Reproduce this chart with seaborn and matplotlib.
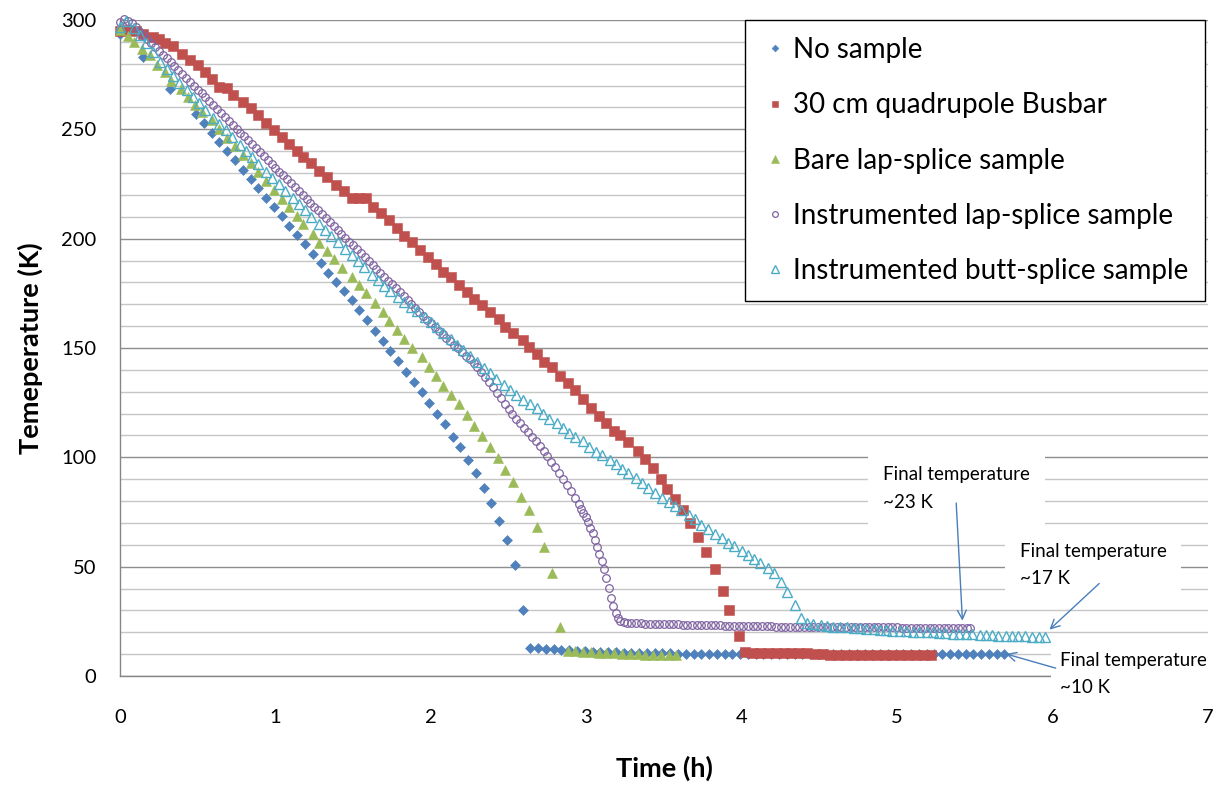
import matplotlib
matplotlib.use("Agg")
import matplotlib.pyplot as plt
from matplotlib.ticker import MultipleLocator
import seaborn as sns
import pandas as pd

# ---------------- data (time in h, temperature in K) ----------------
labels = ["No sample", "30 cm quadrupole Busbar", "Bare lap-splice sample",
          "Instrumented lap-splice sample", "Instrumented butt-splice sample"]
colors = ["#4F81BD", "#C0504D", "#9BBB59", "#8064A2", "#4BACC6"]

blue_t = [0.00, 0.15, 0.32, 0.49, 0.54, 0.59, 0.64, 0.69, 0.74, 0.79,
          0.84, 0.89, 0.94, 0.99, 1.04, 1.09, 1.14, 1.19, 1.24, 1.29,
          1.34, 1.39, 1.44, 1.49, 1.54, 1.59, 1.64, 1.69, 1.74, 1.79,
          1.84, 1.89, 1.94, 1.99, 2.04, 2.09, 2.14, 2.19, 2.24, 2.29,
          2.34, 2.39, 2.44, 2.49, 2.54, 2.59, 2.64, 2.69, 2.74, 2.79,
          2.84, 2.89, 2.94, 2.99, 3.04, 3.09, 3.14, 3.19, 3.24, 3.29,
          3.34, 3.39, 3.44, 3.49, 3.54, 3.59, 3.64, 3.69, 3.74, 3.79,
          3.84, 3.89, 3.94, 3.99, 4.04, 4.09, 4.14, 4.19, 4.24, 4.29,
          4.34, 4.39, 4.44, 4.49, 4.54, 4.59, 4.64, 4.69, 4.74, 4.79,
          4.84, 4.89, 4.94, 4.99, 5.04, 5.09, 5.14, 5.19, 5.24, 5.29,
          5.34, 5.39, 5.44, 5.49, 5.54, 5.59, 5.64, 5.69]
blue_T = [293.5, 283.0, 268.3, 257.0, 252.7, 248.5, 244.2, 240.0, 236.0, 231.5,
          227.2, 223.2, 218.8, 214.5, 210.5, 205.9, 201.7, 197.5, 193.1, 188.7,
          184.5, 180.2, 176.0, 171.8, 167.2, 162.6, 158.0, 153.3, 148.6, 143.9,
          139.1, 134.6, 129.9, 124.7, 119.8, 115.1, 109.3, 104.6, 99.0, 93.0,
          86.1, 79.0, 71.0, 62.2, 50.9, 30.0, 12.8, 12.6, 12.4, 12.2,
          12.0, 11.8, 11.6, 11.4, 11.2, 11.0, 10.9, 10.8, 10.7, 10.6,
          10.5, 10.4, 10.4, 10.3, 10.3, 10.2, 10.2, 10.2, 10.1, 10.1,
          10.1, 10.1, 10.1, 10.1, 10.0, 10.0, 10.0, 10.0, 10.0, 10.0,
          10.0, 10.0, 10.0, 10.0, 10.0, 10.0, 10.0, 10.0, 10.0, 10.0,
          10.0, 10.0, 10.0, 10.0, 10.0, 10.0, 10.0, 10.0, 10.0, 10.0,
          10.0, 10.0, 10.0, 10.0, 10.0, 10.0, 10.0, 10.0]

red_t = [0.00, 0.05, 0.10, 0.15, 0.21, 0.25, 0.29, 0.34, 0.40, 0.45,
         0.50, 0.55, 0.59, 0.64, 0.69, 0.73, 0.79, 0.84, 0.89, 0.94,
         0.99, 1.04, 1.09, 1.14, 1.18, 1.23, 1.28, 1.33, 1.39, 1.44,
         1.49, 1.54, 1.58, 1.63, 1.68, 1.73, 1.78, 1.83, 1.88, 1.93,
         1.98, 2.03, 2.08, 2.13, 2.18, 2.23, 2.28, 2.33, 2.38, 2.44,
         2.48, 2.53, 2.59, 2.63, 2.68, 2.73, 2.78, 2.83, 2.88, 2.93,
         2.98, 3.03, 3.08, 3.13, 3.18, 3.22, 3.27, 3.33, 3.38, 3.43,
         3.48, 3.52, 3.57, 3.62, 3.67, 3.72, 3.77, 3.83, 3.88, 3.92,
         3.98, 4.02, 4.07, 4.12, 4.17, 4.22, 4.27, 4.32, 4.37, 4.42,
         4.47, 4.52, 4.57, 4.62, 4.67, 4.72, 4.77, 4.82, 4.87, 4.92,
         4.97, 5.02, 5.07, 5.12, 5.17, 5.22]
red_T = [295.0, 295.3, 295.0, 293.8, 292.2, 291.1, 289.4, 287.9, 284.5, 281.9,
         279.2, 276.1, 273.1, 269.3, 268.8, 265.8, 262.4, 259.6, 256.5, 253.0,
         249.8, 246.4, 243.5, 240.2, 237.2, 234.5, 231.1, 228.1, 224.5, 222.0,
         218.4, 218.6, 218.4, 214.4, 211.8, 208.6, 204.8, 201.3, 198.7, 194.8,
         191.4, 188.4, 184.9, 182.3, 178.9, 175.7, 172.5, 169.6, 166.5, 163.2,
         159.7, 157.0, 153.6, 150.6, 147.2, 143.7, 141.1, 137.4, 133.8, 130.6,
         126.9, 122.4, 119.0, 115.8, 112.0, 110.2, 107.1, 103.0, 99.1, 95.0,
         90.0, 85.5, 81.0, 75.9, 70.1, 63.4, 56.8, 48.8, 39.0, 30.2,
         18.3, 11.1, 10.5, 10.5, 10.4, 10.4, 10.4, 10.4, 10.4, 10.3,
         10.2, 9.9, 9.8, 9.8, 9.8, 9.8, 9.8, 9.8, 9.8, 9.8,
         9.8, 9.8, 9.8, 9.8, 9.8, 9.8]

green_t = [0.00, 0.05, 0.09, 0.14, 0.19, 0.24, 0.29, 0.33, 0.39, 0.44,
           0.48, 0.53, 0.59, 0.64, 0.69, 0.74, 0.79, 0.84, 0.89, 0.94,
           0.99, 1.04, 1.09, 1.14, 1.18, 1.24, 1.28, 1.33, 1.38, 1.43,
           1.49, 1.54, 1.58, 1.64, 1.69, 1.73, 1.78, 1.83, 1.88, 1.94,
           1.99, 2.03, 2.08, 2.13, 2.18, 2.23, 2.28, 2.33, 2.38, 2.43,
           2.48, 2.53, 2.58, 2.63, 2.68, 2.73, 2.78, 2.83, 2.88, 2.93,
           2.98, 3.03, 3.08, 3.13, 3.18, 3.23, 3.28, 3.33, 3.38, 3.43,
           3.48, 3.53, 3.58]
green_T = [295.2, 292.9, 289.9, 286.8, 283.8, 279.2, 276.2, 271.9, 268.3, 264.8,
           261.2, 257.9, 254.1, 250.2, 246.0, 242.6, 238.4, 234.5, 230.5, 226.4,
           222.2, 218.0, 214.3, 210.3, 206.6, 202.1, 198.1, 194.5, 190.5, 186.4,
           182.6, 178.8, 175.0, 170.8, 166.6, 162.5, 158.2, 154.1, 150.1, 146.0,
           141.4, 137.2, 132.6, 128.5, 124.2, 119.3, 114.4, 109.7, 104.9, 99.5,
           94.2, 88.8, 82.0, 75.9, 68.3, 59.1, 47.0, 22.5, 11.6, 11.3,
           11.0, 10.8, 10.6, 10.4, 10.3, 10.1, 10.0, 9.9, 9.8, 9.7,
           9.6, 9.6, 9.5]

purple_t = [0.000, 0.025, 0.050, 0.075, 0.100, 0.125, 0.150, 0.175, 0.200, 0.225,
            0.250, 0.275, 0.300, 0.325, 0.350, 0.375, 0.400, 0.425, 0.450, 0.475,
            0.500, 0.525, 0.550, 0.575, 0.600, 0.625, 0.650, 0.675, 0.700, 0.725,
            0.750, 0.775, 0.800, 0.825, 0.850, 0.875, 0.900, 0.925, 0.950, 0.975,
            1.000, 1.025, 1.050, 1.075, 1.100, 1.125, 1.150, 1.175, 1.200, 1.225,
            1.250, 1.275, 1.300, 1.325, 1.350, 1.375, 1.400, 1.425, 1.450, 1.475,
            1.500, 1.525, 1.550, 1.575, 1.600, 1.625, 1.650, 1.675, 1.700, 1.725,
            1.750, 1.775, 1.800, 1.825, 1.850, 1.875, 1.900, 1.925, 1.950, 1.975,
            2.000, 2.025, 2.050, 2.075, 2.100, 2.125, 2.150, 2.175, 2.200, 2.225,
            2.250, 2.275, 2.300, 2.325, 2.350, 2.375, 2.400, 2.425, 2.450, 2.475,
            2.500, 2.525, 2.550, 2.575, 2.600, 2.625, 2.650, 2.675, 2.700, 2.725,
            2.750, 2.775, 2.800, 2.825, 2.850, 2.875, 2.900, 2.925, 2.950,
            2.965, 2.980, 2.995, 3.010, 3.025, 3.040, 3.055, 3.070, 3.085, 3.100,
            3.115, 3.130, 3.145, 3.160, 3.175, 3.190, 3.205, 3.220, 3.240, 3.260,
            3.29, 3.32, 3.35, 3.38, 3.41, 3.44, 3.47, 3.50, 3.53, 3.56,
            3.59, 3.62, 3.65, 3.68, 3.71, 3.74, 3.77, 3.80, 3.83, 3.86,
            3.89, 3.92, 3.95, 3.98, 4.01, 4.04, 4.07, 4.10, 4.13, 4.16,
            4.19, 4.22, 4.25, 4.28, 4.31, 4.34, 4.37, 4.40, 4.43, 4.46,
            4.49, 4.52, 4.55, 4.58, 4.61, 4.64, 4.67, 4.70, 4.73, 4.76,
            4.79, 4.82, 4.85, 4.88, 4.91, 4.94, 4.97, 5.00, 5.03, 5.06,
            5.09, 5.12, 5.15, 5.18, 5.21, 5.24, 5.27, 5.30, 5.33, 5.36,
            5.39, 5.42, 5.45, 5.47]
purple_T = [299.0, 300.4, 299.6, 298.4, 296.8, 294.9, 293.0, 291.2, 289.4, 287.7,
            285.9, 284.1, 282.4, 280.6, 278.8, 277.1, 275.3, 273.5, 271.7, 269.9,
            268.1, 266.4, 264.6, 262.8, 261.0, 259.2, 257.5, 255.7, 253.9, 252.1,
            250.3, 248.5, 246.8, 245.0, 243.2, 241.4, 239.6, 237.9, 236.1, 234.3,
            232.5, 230.7, 228.9, 227.2, 225.4, 223.6, 221.8, 220.0, 218.3, 216.5,
            214.7, 212.9, 211.1, 209.3, 207.6, 205.8, 204.0, 202.2, 200.4, 198.7,
            196.9, 195.1, 193.3, 191.5, 189.7, 188.0, 186.2, 184.4, 182.6, 180.8,
            179.1, 177.3, 175.5, 173.7, 171.9, 170.2, 168.4, 166.6, 164.8, 163.0,
            161.3, 159.6, 157.9, 156.2, 154.6, 153.0, 151.4, 149.8, 148.2, 146.5,
            144.8, 143.0, 141.1, 139.0, 136.8, 134.5, 132.0, 129.5, 127.0, 124.5,
            122.0, 119.8, 117.6, 115.5, 113.5, 111.5, 109.5, 107.5, 105.3, 103.0,
            100.6, 98.0, 95.4, 92.7, 90.0, 87.2, 84.4, 81.5, 78.5,
            76.6, 74.6, 72.5, 70.2, 67.8, 65.2, 62.3, 59.2, 56.0, 52.6,
            48.8, 44.7, 40.2, 35.8, 31.8, 28.6, 26.5, 25.3, 24.7, 24.4,
            24.3, 24.2, 24.1, 24.0, 24.0, 23.9, 23.8, 23.8, 23.7, 23.6,
            23.6, 23.5, 23.4, 23.4, 23.3, 23.3, 23.2, 23.2, 23.1, 23.1,
            23.0, 23.0, 22.9, 22.9, 22.9, 22.8, 22.8, 22.8, 22.7, 22.7,
            22.7, 22.6, 22.6, 22.6, 22.5, 22.5, 22.5, 22.5, 22.4, 22.4,
            22.4, 22.4, 22.4, 22.3, 22.3, 22.3, 22.3, 22.3, 22.3, 22.2,
            22.2, 22.2, 22.2, 22.2, 22.2, 22.2, 22.2, 22.2, 22.1, 22.1,
            22.1, 22.1, 22.1, 22.1, 22.1, 22.1, 22.1, 22.1, 22.1, 22.1,
            22.1, 22.1, 22.1, 22.1]

cyan_t = [0.00, 0.04, 0.09, 0.13, 0.17, 0.21, 0.26, 0.30, 0.34, 0.38,
          0.43, 0.47, 0.51, 0.55, 0.60, 0.64, 0.68, 0.72, 0.77, 0.81,
          0.85, 0.89, 0.94, 0.98, 1.02, 1.06, 1.11, 1.15, 1.19, 1.23,
          1.28, 1.32, 1.36, 1.40, 1.45, 1.49, 1.53, 1.57, 1.62, 1.66,
          1.70, 1.74, 1.79, 1.83, 1.87, 1.91, 1.96, 2.00, 2.04, 2.08,
          2.13, 2.17, 2.21, 2.25, 2.30, 2.34, 2.38, 2.42, 2.47, 2.51,
          2.55, 2.59, 2.64, 2.68, 2.72, 2.76, 2.81, 2.85, 2.89, 2.93,
          2.98, 3.02, 3.06, 3.10, 3.15, 3.19, 3.23, 3.27, 3.32, 3.36,
          3.40, 3.44, 3.49, 3.53, 3.57, 3.61, 3.66, 3.70, 3.74, 3.78,
          3.83, 3.87, 3.91, 3.95, 4.00, 4.04, 4.08, 4.12, 4.17, 4.21,
          4.25, 4.29, 4.34, 4.38, 4.42, 4.46, 4.51, 4.55, 4.59, 4.63,
          4.68, 4.72, 4.76, 4.80, 4.85, 4.89, 4.93, 4.97, 5.02, 5.06,
          5.10, 5.14, 5.19, 5.23, 5.27, 5.31, 5.36, 5.40, 5.44, 5.48,
          5.53, 5.57, 5.61, 5.65, 5.70, 5.74, 5.78, 5.82, 5.87, 5.91,
          5.95]
cyan_T = [297.0, 299.5, 296.5, 293.2, 289.3, 285.5, 281.0, 277.5, 274.3, 271.4,
          267.8, 264.9, 262.0, 259.0, 255.4, 252.5, 249.6, 246.7, 243.0, 240.1,
          237.2, 234.3, 230.6, 227.7, 224.8, 222.0, 218.5, 215.7, 212.9, 210.1,
          206.7, 204.0, 201.2, 198.5, 195.1, 192.4, 189.7, 187.0, 183.6, 181.0,
          178.5, 176.0, 173.3, 171.1, 168.9, 166.7, 164.0, 161.8, 159.5, 157.0,
          154.0, 151.5, 149.0, 146.5, 143.5, 141.0, 138.5, 136.0, 133.2, 130.8,
          128.3, 126.0, 124.4, 122.6, 120.0, 117.6, 115.6, 113.6, 111.3, 109.4,
          107.3, 104.8, 102.6, 100.9, 99.0, 96.9, 94.7, 92.8, 90.6, 88.3,
          86.0, 83.8, 81.5, 79.8, 77.8, 75.8, 73.6, 71.6, 69.2, 67.2,
          64.9, 62.9, 61.0, 59.5, 57.2, 55.5, 53.5, 51.6, 49.4, 47.0,
          42.8, 38.3, 32.5, 26.5, 24.2, 23.7, 23.3, 22.9, 22.6, 22.4,
          22.2, 22.0, 21.8, 21.6, 21.4, 21.2, 21.0, 20.8, 20.7, 20.5,
          20.3, 20.2, 20.0, 19.9, 19.7, 19.6, 19.4, 19.3, 19.1, 19.0,
          18.9, 18.7, 18.6, 18.5, 18.4, 18.3, 18.2, 18.1, 18.0, 17.9,
          17.8]

x_ticks = [0, 1, 2, 3, 4, 5, 6, 7]
y_ticks = [0, 50, 100, 150, 200, 250, 300]
ann_texts = ["Final temperature\n~23 K", "Final temperature\n~17 K", "Final temperature\n~10 K"]

# ---------------- style ----------------
sns.set_theme(style="white")
plt.rcParams["font.family"] = ["Lato", "DejaVu Sans"]
plt.rcParams["text.color"] = "black"
plt.rcParams["axes.labelcolor"] = "black"
plt.rcParams["xtick.color"] = "black"
plt.rcParams["ytick.color"] = "black"

fig = plt.figure(figsize=(12.2, 7.87), dpi=100)
ax = fig.add_axes([120 / 1220, 1 - 676 / 787, 1088 / 1220, 656 / 787])

styles = [
    dict(marker="D", markersize=4.6, markerfacecolor=colors[0], markeredgecolor=colors[0], markeredgewidth=0.4),
    dict(marker="s", markersize=6.5, markerfacecolor=colors[1], markeredgecolor=colors[1], markeredgewidth=0.4),
    dict(marker="^", markersize=7.0, markerfacecolor=colors[2], markeredgecolor=colors[2], markeredgewidth=0.4),
    dict(marker="o", markersize=5.5, markerfacecolor="none", markeredgecolor=colors[3], markeredgewidth=0.9),
    dict(marker="^", markersize=7.6, markerfacecolor="none", markeredgecolor=colors[4], markeredgewidth=1.0),
]
series = [(blue_t, blue_T), (red_t, red_T), (green_t, green_T), (purple_t, purple_T), (cyan_t, cyan_T)]

for i, (t, T) in enumerate(series):
    assert len(t) == len(T), (labels[i], len(t), len(T))
    df = pd.DataFrame({"Time (h)": t, "Temperature (K)": T})
    sns.lineplot(data=df, x="Time (h)", y="Temperature (K)", ax=ax, estimator=None, sort=False,
                 linestyle="", color=colors[i], label=labels[i], clip_on=False, zorder=3 + i,
                 **styles[i])

ax.set_xlim(0, 7)
ax.set_ylim(0, 300)
ax.set_xticks(x_ticks)
ax.set_yticks(y_ticks)
ax.yaxis.set_minor_locator(MultipleLocator(10))
ax.grid(which="major", axis="y", color="#8e8e8e", lw=1.0)
ax.grid(which="minor", axis="y", color="#c6c6c6", lw=1.0)
ax.grid(which="both", axis="x", visible=False)
ax.set_axisbelow(True)
ax.tick_params(which="both", length=0)
ax.tick_params(axis="y", pad=17, labelsize=14.5, labelcolor="black")
ax.tick_params(axis="x", pad=24, labelsize=14.5, labelcolor="black")
for s in ["top", "right"]:
    ax.spines[s].set_visible(False)
for s in ["left", "bottom"]:
    ax.spines[s].set_color("#868686")
    ax.spines[s].set_linewidth(1.0)

ax.set_xlabel("Time (h)", fontsize=19.5, fontweight="bold", labelpad=21, color="black")
ax.set_ylabel("Temeperature (K)", fontsize=19.5, fontweight="bold", labelpad=13, color="black")

handles, labs = ax.get_legend_handles_labels()
leg = ax.legend(handles, labs, loc="upper right", bbox_to_anchor=(0.9975, 1.0), borderaxespad=0,
                frameon=True, fancybox=False, framealpha=1, edgecolor="black", fontsize=20,
                labelspacing=1.05, handletextpad=0.2, handlelength=0.9, borderpad=0.62,
                markerscale=0.75, labelcolor="black")
leg.get_frame().set_linewidth(1.0)
leg.set_zorder(20)

# annotations
arrow_c = "#4A7EBB"
box = dict(boxstyle="square,pad=0.8", fc="white", ec="none")
ax.text(4.907, 96.0, ann_texts[0], fontsize=13.5, va="top", ha="left", linespacing=1.75, bbox=box,
        zorder=10, color="black")
ax.text(5.788, 61.0, ann_texts[1], fontsize=13.5, va="top", ha="left", linespacing=1.75, bbox=box,
        zorder=10, color="black")
ax.text(6.045, 11.0, ann_texts[2], fontsize=13.5, va="top", ha="left", linespacing=1.75, color="black",
        bbox=dict(boxstyle="square,pad=0.45", fc="white", ec="none"), zorder=10, clip_on=False)
arr = dict(arrowstyle="->", color=arrow_c, lw=1.0, shrinkA=0, shrinkB=0, mutation_scale=16)
ax.annotate("", xy=(5.42, 25.3), xytext=(5.38, 79.1), arrowprops=arr, zorder=11)
ax.annotate("", xy=(5.98, 21.2), xytext=(6.30, 42.3), arrowprops=arr, zorder=11)
ax.annotate("", xy=(5.70, 10.1), xytext=(6.02, 3.6), arrowprops=arr, zorder=11, annotation_clip=False)

fig.savefig("out.png", dpi=100, facecolor="white")
